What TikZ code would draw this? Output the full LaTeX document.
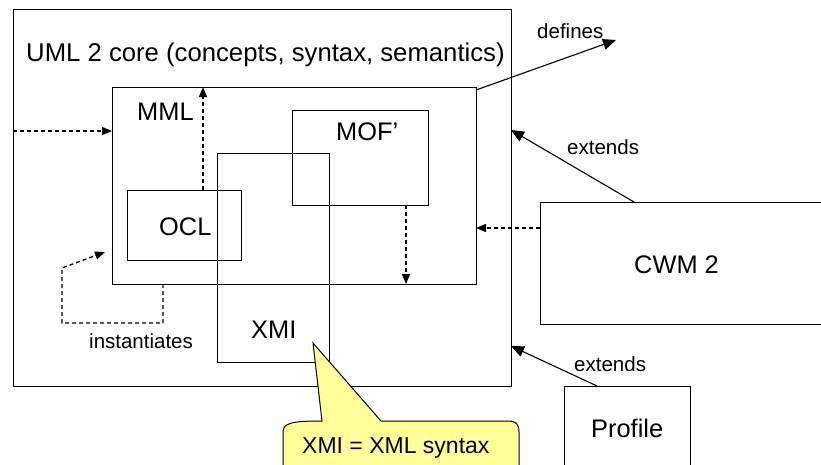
\documentclass[tikz,border=0pt]{standalone}
\usepackage{fontspec}
\setmainfont{Liberation Sans}
\usetikzlibrary{arrows.meta}
\definecolor{calloutyellow}{HTML}{FFFF99}
\begin{document}
\begin{tikzpicture}[x=1pt,y=-1pt,
 box/.style={draw, line width=1pt, inner sep=0pt, outer sep=0pt, anchor=north west},
 big/.style={font=\fontsize{25.4}{30}\selectfont, inner sep=0pt, anchor=base west},
 small/.style={font=\fontsize{20.5}{24}\selectfont, inner sep=0pt, anchor=base west},
 dsh/.style={line width=1.3pt, dash pattern=on 4pt off 3pt, -{Triangle[length=10pt,width=8pt]}},
 sol/.style={line width=1.1pt, -{Triangle[length=13pt,width=11pt]}},
 callout/.style={draw, line width=1pt, fill=calloutyellow}]
\useasboundingbox (0,0) rectangle (821,464);
% boxes
\node[box, minimum width=498pt, minimum height=377pt] (uml) at (13,9) {};
\node[box, minimum width=364pt, minimum height=197pt] (mml) at (112,87) {};
\node[box, minimum width=136pt, minimum height=95pt] (mof) at (292,110) {};
\node[box, minimum width=112pt, minimum height=209pt] (xmi) at (217,153) {};
\node[box, minimum width=114pt, minimum height=70pt] (ocl) at (127,190) {};
\node[box, minimum width=290pt, minimum height=122pt] (cwm) at (540,202) {};
\node[box, minimum width=126pt, minimum height=94pt] (profile) at (564,386) {};
% labels
\node[big, font=\fontsize{25.7}{30}\selectfont] (tuml) at (26,61) {UML 2 core (concepts, syntax, semantics)};
\node[big] (tmml) at (137,120) {MML};
\node[big] (tmof) at (336,140) {MOF’};
\node[big] (tocl) at (159,235) {OCL};
\node[big] (txmi) at (251,338) {XMI};
\node[big] (tcwm) at (634,273) {CWM 2};
\node[big] (tprof) at (591,437) {Profile};
\node[small] (ldef) at (537,38) {defines};
\node[small] (lext1) at (567,154) {extends};
\node[small] (lext2) at (574,371) {extends};
\node[small] (linst) at (89,348) {instantiates};
% connectors
\coordinate (defEnd) at (616,40);
\coordinate (instEnd) at (105,252);
\draw[dsh] (uml.west |- 0,131) -- (mml.west |- 0,131);
\draw[dsh] (ocl.north -| 203,0) -- (mml.north -| 203,0);
\draw[dsh] (mof.south -| 406,0) -- (mml.south -| 406,0);
\draw[dsh] (cwm.west |- 0,228) -- (mml.east |- 0,228);
\draw[dsh] (mml.south -| 163,0) -- (163,323) -- (62,323) -- (62,268) -- (instEnd);
\draw[sol] (mml.east |- 0,90) -- (defEnd);
\draw[sol] (cwm.north -| 634,0) -- (uml.east |- 0,130);
\draw[sol] (profile.north -| 597,0) -- (uml.east |- 0,346);
% callout
\coordinate (tip) at (313,343);
\draw[callout] (283,475) -- (283,432) .. controls (283,423) and (292,421) .. (322,421) -- (tip) -- (381,421) -- (508,421) .. controls (516,421) and (519,424) .. (519,432) -- (519,475);
\node[small, font=\fontsize{23}{27}\selectfont] (tcall) at (302,453) {XMI = XML syntax};
\end{tikzpicture}
\end{document}
